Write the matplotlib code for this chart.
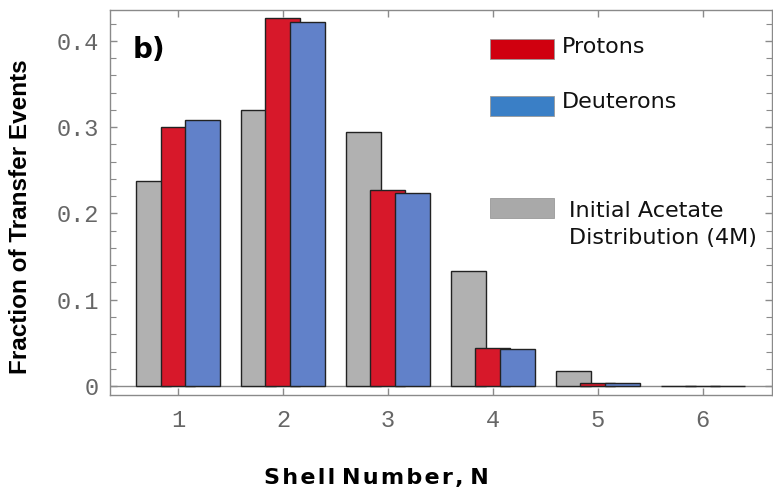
import matplotlib
matplotlib.use("Agg")
import matplotlib.pyplot as plt
from matplotlib.patches import Rectangle
import numpy as np

# ---------------- data ----------------
shells = [1, 2, 3, 4, 5, 6]
initial_acetate = [0.238, 0.320, 0.294, 0.133, 0.017, 0.0004]
protons = [0.300, 0.426, 0.227, 0.044, 0.003, 0.0004]
deuterons = [0.308, 0.422, 0.224, 0.043, 0.003, 0.0004]

ytick_vals = [0, 0.1, 0.2, 0.3, 0.4]
ytick_labels = ["0", "0.1", "0.2", "0.3", "0.4"]

legend_labels = ["Protons", "Deuterons", "Initial Acetate\nDistribution (4M)"]

# ---------------- style ----------------
GRAY = "#b1b1b1"
RED = "#d7182a"
BLUE = "#6181c9"
EDGE = "#222222"
AXIS = "#8a8a8a"
TICKTXT = "#666666"

W = 0.333      # bar width
OFF = 0.235    # offset between bars in a group

fig = plt.figure(figsize=(7.73, 4.87), dpi=100)
ax = fig.add_axes([110 / 773, 1 - 395 / 487, 662 / 773, 385 / 487])

x = np.array(shells, dtype=float)
ax.bar(x - OFF, initial_acetate, W, color=GRAY, edgecolor=EDGE, linewidth=1.0, zorder=2)
ax.bar(x, protons, W, color=RED, edgecolor=EDGE, linewidth=1.0, zorder=3)
ax.bar(x + OFF, deuterons, W, color=BLUE, edgecolor=EDGE, linewidth=1.0, zorder=4)

ax.axhline(0, color=AXIS, linewidth=1.0, zorder=1)

ax.set_xlim(0.352, 6.66)
ax.set_ylim(-0.0104, 0.4357)

for sp in ax.spines.values():
    sp.set_color(AXIS)
    sp.set_linewidth(1.0)

ax.set_xticks(shells)
ax.set_xticklabels([str(s) for s in shells])
ax.set_yticks(ytick_vals)
ax.set_yticklabels(ytick_labels)
ax.set_yticks(np.arange(0, 0.44, 0.02), minor=True)

ax.tick_params(axis="both", which="both", direction="in", color=AXIS,
               top=True, right=True, labelcolor=TICKTXT)
ax.tick_params(axis="both", which="major", length=5, width=1)
ax.tick_params(axis="both", which="minor", length=4, width=0.8)
ax.tick_params(axis="x", which="minor", top=False, bottom=False)
ax.tick_params(axis="y", pad=8)
ax.tick_params(axis="x", pad=10)
for lab in ax.get_xticklabels() + ax.get_yticklabels():
    lab.set_family("Liberation Mono")
    lab.set_fontsize(17)

ax.set_ylabel("Fraction of Transfer Events", fontsize=17.5, fontweight="bold",
              family="Liberation Sans", labelpad=0)
ax.yaxis.set_label_coords(-0.118, 0.462)
ax.set_xlabel("S h e l l   N u m b e r ,   N".replace(" ", "\u200a"), fontsize=16,
              fontweight="bold", family="DejaVu Sans")
ax.xaxis.set_label_coords(0.403, -0.19)

ax.text(0.034, 0.895, "b)", transform=ax.transAxes, fontsize=20, fontweight="bold",
        family="DejaVu Sans", va="center", ha="left")

# ---------------- legend ----------------
leg_colors = ["#d0000f", "#3a7fc6", "#a9a9a9"]
leg_y = [0.873, 0.725, 0.460]
txt_y = [0.904, 0.761, 0.442]
txt_x = [0.683, 0.683, 0.693]
for c, yb, ty, tx, lab in zip(leg_colors, leg_y, txt_y, txt_x, legend_labels):
    ax.add_patch(Rectangle((0.574, yb), 0.097, 0.051, transform=ax.transAxes,
                           facecolor=c, edgecolor="#999999", linewidth=0.6, zorder=5))
    ax.text(tx, ty, lab, transform=ax.transAxes, fontsize=16, family="DejaVu Sans",
            va="center", ha="left", linespacing=1.45, color="#111111")

fig.savefig("out.png", dpi=100)
